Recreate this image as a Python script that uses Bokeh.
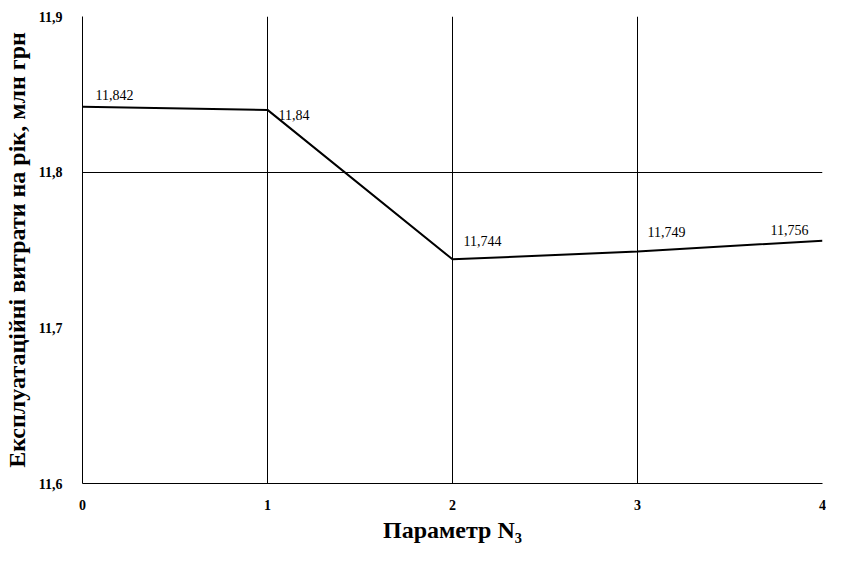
from bokeh.plotting import figure
from bokeh.models import ColumnDataSource, FixedTicker, Range1d
from bokeh.core.properties import value
from bokeh.embed import file_html
from bokeh.resources import INLINE

x_vals = [0, 1, 2, 3, 4]
y_vals = [11.842, 11.84, 11.744, 11.749, 11.756]
point_labels = ["11,842", "11,84", "11,744", "11,749", "11,756"]
label_dx = [13, 11, 11, 10, -52]
label_dy = [-7, 10, -13, -15, -6]
y_ticks = [11.6, 11.7, 11.8, 11.9]
y_tick_labels = ["11,6", "11,7", "11,8", "11,9"]
x_title = "Параметр N₃"
y_title = "Експлуатаційні витрати на рік, млн грн"

FONT = "Liberation Serif"

p = figure(width=826, height=545, output_backend="svg", toolbar_location=None,
           x_range=Range1d(0, 4), y_range=Range1d(11.6, 11.9),
           min_border_left=80, min_border_right=4, min_border_top=16, min_border_bottom=50)
p.outline_line_color = None
p.background_fill_color = "white"

p.xaxis.ticker = FixedTicker(ticks=x_vals)
p.yaxis.ticker = FixedTicker(ticks=y_ticks)
p.yaxis.major_label_overrides = {t: l for t, l in zip(y_ticks, y_tick_labels)}
p.xgrid.ticker = FixedTicker(ticks=[1, 2, 3, 4])
p.ygrid.ticker = FixedTicker(ticks=[11.8])
for g in (p.xgrid, p.ygrid):
    g.grid_line_color = "black"
    g.grid_line_width = 1
    g.grid_line_alpha = 1

for ax in (p.xaxis, p.yaxis):
    ax.axis_line_color = "black"
    ax.axis_line_width = 1
    ax.major_tick_line_color = None
    ax.minor_tick_line_color = None
    ax.major_label_text_font = FONT
    ax.major_label_text_font_style = "bold"
    ax.major_label_text_font_size = "14px"
    ax.major_label_text_color = "black"
    ax.axis_label_text_font = FONT
    ax.axis_label_text_font_style = "bold"
    ax.axis_label_text_font_size = "24px"
    ax.axis_label_text_color = "black"

p.xaxis.axis_label = x_title
p.yaxis.axis_label = y_title
p.xaxis.major_label_standoff = 10
p.yaxis.major_label_standoff = 14
p.xaxis.axis_label_standoff = 4
p.yaxis.axis_label_standoff = 6

src = ColumnDataSource(dict(x=x_vals, y=y_vals, lab=point_labels, dx=label_dx, dy=label_dy))
p.line("x", "y", source=src, line_color="black", line_width=2)
p.text("x", "y", text="lab", source=src, x_offset="dx", y_offset="dy",
       text_font=value(FONT), text_font_size="14px", text_color="black",
       text_baseline="bottom", text_align="left")

open("out.html", "w").write(file_html(p, INLINE))
